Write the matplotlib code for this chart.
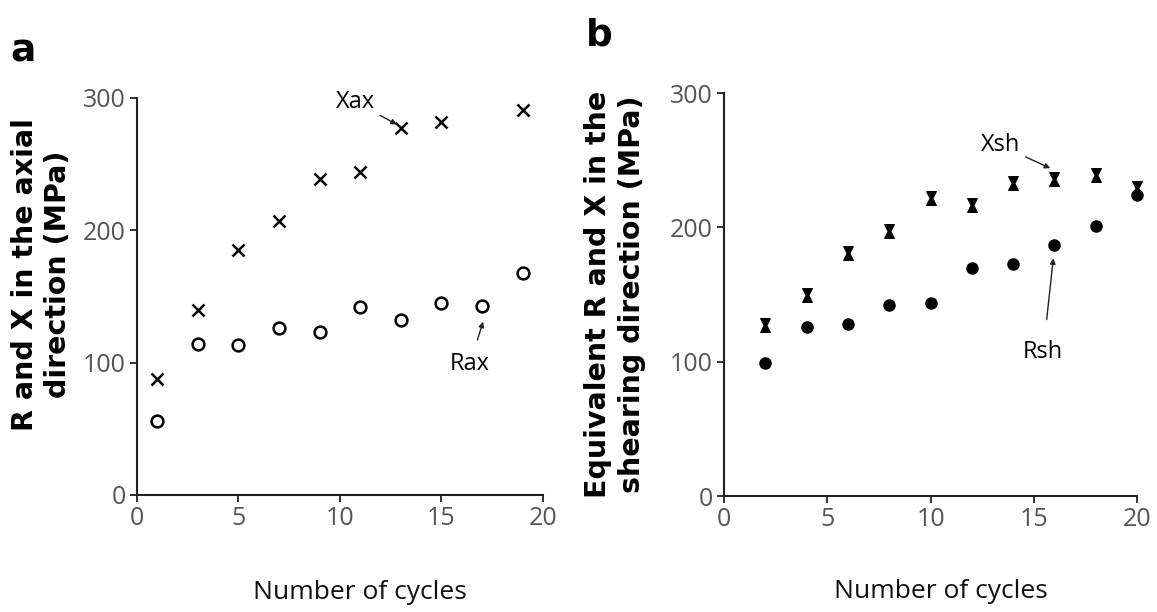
import matplotlib.pyplot as plt

# Dados - painel a (direcao axial)
ciclos_ax = [1, 3, 5, 7, 9, 11, 13, 15, 17, 19]
x_ax = [88, 140, 185, 207, 239, 244, 277, 282, None, 291]
r_ax = [56, 114, 113, 126, 123, 142, 132, 145, 143, 168]

# Dados - painel b (direcao de cisalhamento)
ciclos_sh = [2, 4, 6, 8, 10, 12, 14, 16, 18, 20]
x_sh = [127, 150, 181, 197, 222, 217, 233, 236, 239, 229]
r_sh = [99, 126, 128, 142, 144, 170, 173, 187, 201, 224]

xticks = [0, 5, 10, 15, 20]
yticks = [0, 100, 200, 300]

fonte_num = 'Open Sans'
cinza = '#555555'

# marcador "ampulheta" preenchido do painel b
ampulheta = [(-0.7, 1), (0.7, 1), (0.2, 0), (0.7, -1), (-0.7, -1), (-0.2, 0), (-0.7, 1)]

fig = plt.figure(figsize=(11.57, 6.12), dpi=100)
ax1 = fig.add_axes([0.1184, 0.1912, 0.3509, 0.6487])
ax2 = fig.add_axes([0.6258, 0.1895, 0.3569, 0.6585])


def estilo(ax):
    ax.set_xlim(0, 20)
    ax.set_ylim(0, 300)
    ax.set_xticks(xticks)
    ax.set_yticks(yticks)
    ax.spines['top'].set_visible(False)
    ax.spines['right'].set_visible(False)
    ax.spines['left'].set_linewidth(1.5)
    ax.spines['bottom'].set_linewidth(1.5)
    ax.spines['left'].set_color('#222222')
    ax.spines['bottom'].set_color('#222222')
    ax.tick_params(direction='out', length=5, width=1.3, color='#222222',
                   labelsize=18, labelcolor=cinza, pad=3)
    for lab in ax.get_xticklabels() + ax.get_yticklabels():
        lab.set_family(fonte_num)


# Painel a
xs = [c for c, v in zip(ciclos_ax, x_ax) if v is not None]
xv = [v for v in x_ax if v is not None]
ax1.plot(xs, xv, linestyle='none', marker='x', ms=8, mew=1.8, color='black', clip_on=False)
ax1.plot(ciclos_ax, r_ax, linestyle='none', marker='o', ms=8.5, mew=1.8,
         mfc='none', color='black', clip_on=False)
estilo(ax1)
ax1.set_ylabel('R and X in the axial\ndirection (MPa)', fontsize=20.5, fontweight='bold',
               family='DejaVu Sans', linespacing=1.25)
ax1.yaxis.set_label_coords(-0.16, 0.555)
ax1.set_xlabel('Number of cycles', fontsize=19, family=fonte_num, color='#111111')
ax1.xaxis.set_label_coords(0.549, -0.215)
ax1.annotate('Xax', xy=(12.8, 280), xytext=(10.75, 297), fontsize=17, family=fonte_num,
             ha='center', va='center',
             arrowprops=dict(arrowstyle='-|>', color='#222222', lw=1, shrinkA=2, shrinkB=0,
                             mutation_scale=8))
ax1.annotate('Rax', xy=(17.05, 131), xytext=(16.4, 99), fontsize=17, family=fonte_num,
             ha='center', va='center',
             arrowprops=dict(arrowstyle='-|>', color='#222222', lw=1, shrinkA=7, shrinkB=0,
                             mutation_scale=8))

# Painel b
ax2.plot(ciclos_sh, x_sh, linestyle='none', marker=ampulheta, ms=10, mew=0.8,
         color='black', clip_on=False)
ax2.plot(ciclos_sh, r_sh, linestyle='none', marker='o', ms=8, color='black', clip_on=False)
estilo(ax2)
ax2.set_ylabel('Equivalent R and X in the\nshearing direction (MPa)', fontsize=20.5,
               fontweight='bold', family='DejaVu Sans', linespacing=1.25)
ax2.yaxis.set_label_coords(-0.19, 0.5)
ax2.set_xlabel('Number of cycles', fontsize=19, family=fonte_num, color='#111111')
ax2.xaxis.set_label_coords(0.525, -0.205)
ax2.annotate('Xsh', xy=(15.8, 244), xytext=(13.4, 261), fontsize=17, family=fonte_num,
             ha='center', va='center',
             arrowprops=dict(arrowstyle='-|>', color='#222222', lw=1, shrinkA=2, shrinkB=0,
                             mutation_scale=8))
ax2.annotate('Rsh', xy=(15.95, 177), xytext=(15.45, 107), fontsize=17, family=fonte_num,
             ha='center', va='center',
             arrowprops=dict(arrowstyle='-|>', color='#222222', lw=1, shrinkA=13, shrinkB=0,
                             mutation_scale=8))

# letras dos paineis
fig.text(0.009, 0.9, 'a', fontsize=27, fontweight='bold', family='DejaVu Sans')
fig.text(0.506, 0.925, 'b', fontsize=27, fontweight='bold', family='DejaVu Sans')

fig.savefig('out.png', dpi=100)
